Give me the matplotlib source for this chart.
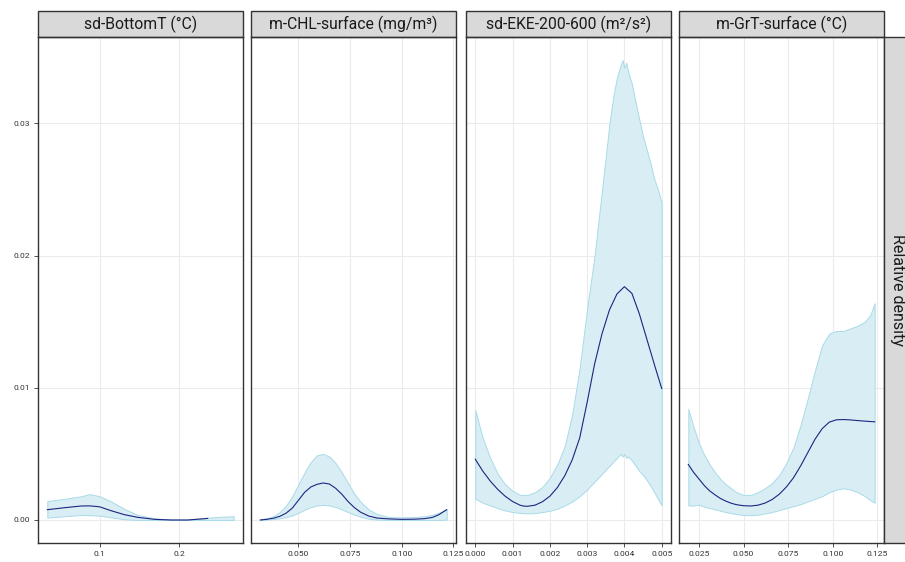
import matplotlib.pyplot as plt
from matplotlib.patches import Rectangle

plt.rcParams["font.family"] = ["Roboto", "DejaVu Sans"]

# facet titles and x ticks
titles = ["sd-BottomT (°C)", "m-CHL-surface (mg/m³)", "sd-EKE-200-600 (m²/s²)", "m-GrT-surface (°C)"]
xticks = [
    [0.1, 0.2],
    [0.050, 0.075, 0.100, 0.125],
    [0.000, 0.001, 0.002, 0.003, 0.004, 0.005],
    [0.025, 0.050, 0.075, 0.100, 0.125],
]
xticklabels = [
    ["0.1", "0.2"],
    ["0.050", "0.075", "0.100", "0.125"],
    ["0.000", "0.001", "0.002", "0.003", "0.004", "0.005"],
    ["0.025", "0.050", "0.075", "0.100", "0.125"],
]
yticks = [0.00, 0.01, 0.02, 0.03]
yticklabels = ["0.00", "0.01", "0.02", "0.03"]
row_label = "Relative density"

# panel 1: sd-BottomT
bt_x = [0.0346, 0.0563, 0.0771, 0.0875, 0.1, 0.1146, 0.1313, 0.1479, 0.1688, 0.1896, 0.2104, 0.2313, 0.2354, 0.2521, 0.2679]
bt_hi = [0.00144, 0.0016, 0.0018, 0.00196, 0.0018, 0.0014, 0.00083, 0.00038, 0.00013, 0.00003, 0.00003, 0.00013, 0.00018, 0.00025, 0.00028]
bt_lo = [0.00018, 0.00028, 0.00038, 0.00036, 0.00033, 0.0002, 0.00005, 0.0, 0.0, 0.0, 0.0, 0.0, 0.0, 0.0, 0.0]
bt_line_x = [0.0346, 0.0563, 0.0771, 0.0875, 0.1, 0.1146, 0.1313, 0.1479, 0.1688, 0.1896, 0.2104, 0.2313, 0.2354]
bt_mid = [0.00078, 0.00093, 0.00106, 0.00107, 0.001, 0.0007, 0.0004, 0.0002, 0.00005, 0.0, 0.0, 0.0001, 0.00012]

# panel 2: m-CHL-surface
chl_x = [0.0315, 0.035, 0.038, 0.041, 0.044, 0.047, 0.050, 0.053, 0.056, 0.059, 0.062, 0.065, 0.068,
         0.071, 0.074, 0.077, 0.080, 0.084, 0.088, 0.094, 0.100, 0.106, 0.111, 0.115, 0.118, 0.1218]
chl_mid = [0.0, 0.00006, 0.00014, 0.00028, 0.00052, 0.0009, 0.0015, 0.0021, 0.0025, 0.0027, 0.0028, 0.00272, 0.0024,
           0.00195, 0.0014, 0.00095, 0.0006, 0.0003, 0.00015, 0.00008, 0.00005, 0.00006, 0.0001, 0.0002, 0.0004, 0.00078]
chl_hi = [0.00005, 0.00015, 0.0003, 0.0006, 0.0011, 0.0018, 0.0027, 0.0036, 0.0044, 0.0049, 0.0050, 0.0048, 0.0043,
          0.0036, 0.0028, 0.002, 0.0014, 0.0008, 0.00045, 0.00022, 0.0002, 0.00022, 0.00028, 0.0004, 0.00055, 0.0008]
chl_lo = [0.0, 0.00003, 0.00007, 0.00013, 0.00022, 0.00035, 0.00055, 0.00078, 0.00097, 0.0011, 0.00114, 0.0011, 0.00098,
          0.0008, 0.0006, 0.0004, 0.00025, 0.0001, 0.00003, 0.0, 0.0, 0.0, 0.0, 0.0, 0.0, 0.00003]

# panel 3: sd-EKE-200-600
eke_x = [0.0, 0.0002, 0.0004, 0.0006, 0.0008, 0.0010, 0.0012, 0.0014, 0.0016, 0.0018, 0.0020, 0.0022, 0.0024,
         0.0026, 0.0028, 0.0030, 0.0032, 0.0034, 0.0036, 0.0037, 0.0038, 0.0039, 0.00395, 0.0040, 0.00405, 0.0041,
         0.0042, 0.0043, 0.0044, 0.0045, 0.0046, 0.0047, 0.0048, 0.0049, 0.0050]
eke_hi = [0.0083, 0.0062, 0.0047, 0.0035, 0.0027, 0.0022, 0.0019, 0.0019, 0.0021, 0.0025, 0.0032, 0.0042, 0.0056,
          0.0080, 0.0115, 0.0160, 0.0200, 0.0250, 0.0300, 0.0320, 0.0335, 0.0344, 0.0348, 0.0342, 0.0346, 0.0339,
          0.0330, 0.0316, 0.0303, 0.0290, 0.0280, 0.0270, 0.0258, 0.0250, 0.0240]
eke_lo = [0.0016, 0.0013, 0.0011, 0.0009, 0.00072, 0.0006, 0.00053, 0.0005, 0.00052, 0.0006, 0.0007, 0.00085, 0.0011,
          0.0014, 0.0018, 0.0023, 0.0029, 0.0035, 0.0041, 0.0044, 0.0047, 0.0050, 0.0048, 0.0050, 0.0047, 0.0048,
          0.0045, 0.0041, 0.0037, 0.0034, 0.0030, 0.0026, 0.0021, 0.0016, 0.0011]
eke_line_x = [0.0, 0.0002, 0.0004, 0.0006, 0.0008, 0.0010, 0.0012, 0.0013, 0.0014, 0.0016, 0.0018, 0.0020, 0.0022,
              0.0024, 0.0026, 0.0028, 0.0030, 0.0032, 0.0034, 0.0036, 0.0038, 0.0040, 0.0042, 0.0044, 0.0046,
              0.0048, 0.0050]
eke_mid = [0.0046, 0.0037, 0.00295, 0.00232, 0.0018, 0.0014, 0.00112, 0.00105, 0.00104, 0.00112, 0.00138, 0.0018,
           0.00245, 0.00335, 0.00455, 0.0062, 0.0089, 0.0118, 0.0141, 0.0159, 0.0171, 0.01765, 0.01715, 0.0156,
           0.0137, 0.0118, 0.00995]

# panel 4: m-GrT-surface
grt_x = [0.019, 0.022, 0.025, 0.028, 0.031, 0.034, 0.037, 0.040, 0.043, 0.046, 0.050, 0.054, 0.058, 0.062, 0.066,
         0.070, 0.074, 0.078, 0.082, 0.086, 0.090, 0.094, 0.098, 0.102, 0.106, 0.110, 0.114, 0.118, 0.121, 0.1235]
grt_mid = [0.0042, 0.0036, 0.0031, 0.0026, 0.0022, 0.0019, 0.00163, 0.00143, 0.00127, 0.00116, 0.00108, 0.00106,
           0.00112, 0.00128, 0.00155, 0.00195, 0.0025, 0.0032, 0.0041, 0.0051, 0.0061, 0.0069, 0.0074, 0.00758,
           0.0076, 0.00757, 0.00752, 0.00748, 0.00745, 0.00743]
grt_hi = [0.0084, 0.0070, 0.0058, 0.0049, 0.0042, 0.0036, 0.0031, 0.0027, 0.0024, 0.0021, 0.0019, 0.0019, 0.0021,
          0.0024, 0.0028, 0.0034, 0.0043, 0.0055, 0.0072, 0.0092, 0.0113, 0.0132, 0.0141, 0.0143, 0.0143, 0.0145,
          0.0147, 0.0150, 0.0155, 0.0164]
grt_lo = [0.0011, 0.0011, 0.00115, 0.0010, 0.0009, 0.0008, 0.0007, 0.0006, 0.00052, 0.00045, 0.00038, 0.00036, 0.0004,
          0.0005, 0.0006, 0.00075, 0.0009, 0.00105, 0.0012, 0.0014, 0.0016, 0.0018, 0.0021, 0.0023, 0.0024, 0.0023,
          0.0021, 0.0018, 0.0015, 0.0013]

bands = [(bt_x, bt_lo, bt_hi), (chl_x, chl_lo, chl_hi), (eke_x, eke_lo, eke_hi), (grt_x, grt_lo, grt_hi)]
lines = [(bt_line_x, bt_mid), (chl_x, chl_mid), (eke_line_x, eke_mid), (grt_x, grt_mid)]

W, H = 905, 562
fig = plt.figure(figsize=(W / 100, H / 100), dpi=100)
lefts = [38, 251, 466, 679]
pw = 205
top, bottom = 37, 543
strip_h = 26
border = "#333333"

axes = []
for i in range(4):
    ax = fig.add_axes([lefts[i] / W, 1 - bottom / H, pw / W, (bottom - top) / H],
                      sharey=axes[0] if axes else None)
    axes.append(ax)
    x, lo, hi = bands[i]
    ax.fill_between(x, lo, hi, facecolor="#d8edf4", edgecolor="#a9dbe8", linewidth=0.7)
    lx, ly = lines[i]
    ax.plot(lx, ly, color="#1c2580", linewidth=0.8)
    ax.set_xticks(xticks[i])
    ax.set_xticklabels(xticklabels[i])
    ax.set_yticks(yticks)
    ax.grid(True, color="#ebebeb", linewidth=0.8)
    ax.set_axisbelow(True)
    for s in ax.spines.values():
        s.set_color(border)
        s.set_linewidth(1.0)
    ax.tick_params(direction="out", length=3, width=0.6, color=border,
                   labelsize=6.1, labelcolor="#333333", pad=2.5)
    if i == 0:
        ax.set_yticklabels(yticklabels)
    else:
        ax.tick_params(axis="y", left=False, labelleft=False)
    # facet strip on top
    ax.add_patch(Rectangle((0, 1), 1, strip_h / (bottom - top), transform=ax.transAxes,
                           facecolor="#d9d9d9", edgecolor=border, linewidth=1.0, clip_on=False))
    ax.text(0.5, 1 + strip_h / 2 / (bottom - top), titles[i], transform=ax.transAxes,
            ha="center", va="center", fontsize=11.3, color="#1a1a1a")

# row strip on the right
fig.patches.append(Rectangle((884 / W, 1 - bottom / H), 30 / W, (bottom - top) / H,
                             transform=fig.transFigure, facecolor="#d9d9d9",
                             edgecolor=border, linewidth=1.0))
fig.text(897 / W, 1 - (top + bottom) / 2 / H, row_label, rotation=-90,
         ha="center", va="center", fontsize=11.5, color="#1a1a1a")

fig.savefig("out.png", dpi=100)
